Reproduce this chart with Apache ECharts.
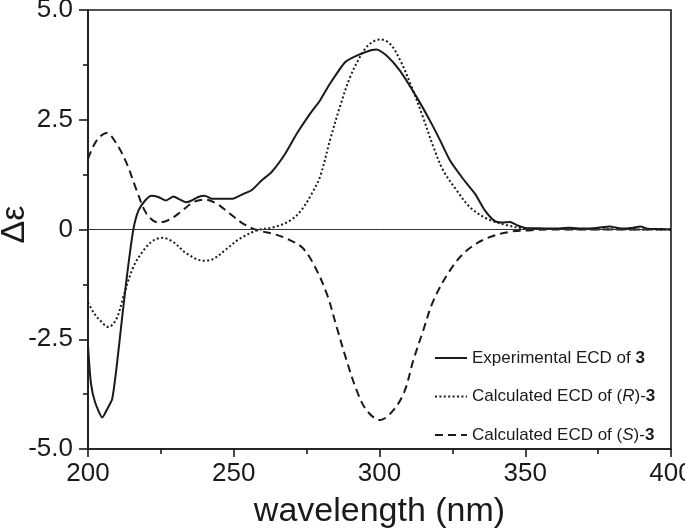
<!DOCTYPE html>
<html>
<head>
<meta charset="utf-8">
<script src="https://cdn.jsdelivr.net/npm/echarts@6/dist/echarts.min.js"></script>
<style>html,body{margin:0;padding:0;background:#fff}#c{width:685px;height:528px}</style>
</head>
<body>
<div id="c"></div>
<script>
// ---- data ----
const seriesNames = ['exp', 'R', 'S'];
const legendLabels = ['Experimental ECD of {b|3}', 'Calculated ECD of ({i|R})-{b|3}', 'Calculated ECD of ({i|S})-{b|3}'];

const expWavelength = [200,201,202.4,204.9,206.5,208.3,209.8,211.6,213.3,215.5,217.3,219.6,221.8,224.1,226.8,229.3,231.6,233.6,235.6,237.8,240.1,242.4,245.3,249.6,253.3,256.2,259.6,263,267.6,271.6,276.2,279.6,283,288.2,292.2,297.3,299,302.5,307,312.8,317.3,320.8,324.2,328.7,332.8,336.2,339.6,342,344.8,347.1,350.5,355,360,365,370,375,379,383,387,389.4,392,396,400];
const expDelta      = [-2.65,-3.5,-3.93,-4.28,-4.1,-3.86,-3.14,-2.07,-1.09,-0.02,0.43,0.66,0.77,0.74,0.66,0.75,0.68,0.62,0.66,0.74,0.77,0.70,0.70,0.70,0.81,0.90,1.12,1.31,1.72,2.18,2.64,2.94,3.32,3.81,3.96,4.09,4.10,3.96,3.62,3.01,2.48,2.03,1.57,1.15,0.81,0.43,0.19,0.16,0.17,0.10,0.03,0.03,0.02,0.04,0.02,0.04,0.07,0.02,0.04,0.07,0.02,0.01,0.0];

const rWavelength = [200,202,204.1,207,209.8,212.1,215.5,219,222.4,225.6,229.3,233.9,239.6,243,247.6,252.1,257.9,263.6,269.3,273.3,276.7,279.6,283,286.4,289.9,293.9,296.7,300.2,303.6,307,311,314.7,318.5,321.9,326.5,331,336.8,343.6,350.5,360,400];
const rDelta      = [-1.66,-1.9,-2.07,-2.22,-2.03,-1.54,-0.86,-0.48,-0.25,-0.19,-0.29,-0.55,-0.71,-0.67,-0.44,-0.21,-0.02,0.05,0.2,0.45,0.81,1.2,2.03,2.79,3.47,4.0,4.23,4.33,4.23,3.87,3.25,2.6,1.88,1.34,0.89,0.51,0.25,0.10,0.02,0.01,0.0];

const sWavelength = [200,203,206.4,209.8,213.3,216.7,220.1,224.1,227.5,231.6,236.1,240.1,244.1,248.7,253.3,257.9,263.6,268.2,273.3,277.3,281.9,285.3,288.7,292.2,295.6,300.2,304.7,308.5,311.6,315,318.5,324.2,329.9,336.8,344.8,351,360,400];
const sDelta      = [1.61,2.03,2.2,1.95,1.50,0.89,0.36,0.16,0.21,0.39,0.62,0.68,0.59,0.36,0.13,-0.01,-0.10,-0.21,-0.40,-0.78,-1.46,-2.22,-2.98,-3.67,-4.12,-4.34,-4.12,-3.70,-2.98,-2.30,-1.62,-0.93,-0.48,-0.2,-0.05,-0.02,0.0,0.0];

const xTicks = [200,250,300,350,400];
const xTickLabels = ['200','250','300','350','400'];
const yTicks = [-5,-2.5,0,2.5,5];
const yTickLabels = ['-5.0','-2.5','0','2.5','5.0'];

// ---- chart ----
const zip = (xs, ys) => xs.map((x, i) => [x, ys[i]]);
const FONT = '"Liberation Sans", Arial, sans-serif';
const INK = '#1a1a1a';

const chart = echarts.init(document.getElementById('c'), null, {renderer: 'canvas'});
const baseLine = {type: 'line', symbol: 'none', showSymbol: false, animation: false, silent: true};

chart.setOption({
  animation: false,
  backgroundColor: '#fff',
  grid: {left: 88, right: 14, top: 10, bottom: 79, containLabel: false, outerBoundsMode: 'none',
    show: true, borderColor: INK, borderWidth: 1.6, backgroundColor: 'transparent'},
  xAxis: {
    type: 'value', min: 200, max: 400, interval: 50,
    axisLine: {show: true, onZero: false, lineStyle: {color: INK, width: 1.6}},
    axisTick: {show: true, inside: false, length: 8, lineStyle: {color: INK, width: 1.6}},
    minorTick: {show: true, splitNumber: 2, length: 5, lineStyle: {color: INK, width: 1.6}},
    splitLine: {show: false},
    axisLabel: {fontSize: 26, color: INK, fontFamily: FONT, margin: 12,
      formatter: v => { const i = xTicks.indexOf(v); return i >= 0 ? xTickLabels[i] : ''; }},
    name: 'wavelength (nm)', nameLocation: 'middle', nameGap: 46, nameMoveOverlap: false,
    nameTextStyle: {fontSize: 34, color: INK, fontFamily: FONT, verticalAlign: 'top'}
  },
  yAxis: {
    type: 'value', min: -5, max: 5, interval: 2.5,
    axisLine: {show: true, onZero: false, lineStyle: {color: INK, width: 1.6}},
    axisTick: {show: true, inside: false, length: 9, lineStyle: {color: INK, width: 1.6}},
    minorTick: {show: true, splitNumber: 2, length: 5, lineStyle: {color: INK, width: 1.6}},
    splitLine: {show: false},
    axisLabel: {fontSize: 26, color: INK, fontFamily: FONT, margin: 15,
      formatter: v => { const i = yTicks.indexOf(v); return i >= 0 ? yTickLabels[i] : ''; }},
    name: 'Δε', nameLocation: 'middle', nameGap: 56, nameRotate: 90, nameMoveOverlap: false,
    nameTextStyle: {fontSize: 34, color: INK, fontFamily: FONT, padding: [0, 0, 0, 10]}
  },
  legend: {
    orient: 'vertical', left: 429, top: 343,
    itemWidth: 32, itemHeight: 14, itemGap: 18.5,
    itemStyle: {opacity: 0},
    data: seriesNames,
    formatter: name => legendLabels[seriesNames.indexOf(name)],
    textStyle: {
      fontSize: 17, color: INK, fontFamily: FONT, lineHeight: 20,
      rich: {
        b: {fontSize: 17, fontWeight: 'bold', color: INK, fontFamily: FONT, lineHeight: 20},
        i: {fontSize: 17, fontStyle: 'italic', color: INK, fontFamily: FONT, lineHeight: 20}
      }
    }
  },
  series: [
    Object.assign({}, baseLine, {
      name: seriesNames[0], data: zip(expWavelength, expDelta), smooth: 0.2,
      lineStyle: {color: INK, width: 2, type: 'solid'}, itemStyle: {color: INK}, z: 5,
      markLine: {silent: true, symbol: 'none', label: {show: false}, animation: false,
        lineStyle: {type: 'solid', color: '#333', width: 1}, data: [{yAxis: 0}]}
    }),
    Object.assign({}, baseLine, {
      name: seriesNames[1], data: zip(rWavelength, rDelta), smooth: 0.35,
      lineStyle: {color: INK, width: 2, type: [2, 2.4]}, itemStyle: {color: INK}, z: 4
    }),
    Object.assign({}, baseLine, {
      name: seriesNames[2], data: zip(sWavelength, sDelta), smooth: 0.35,
      lineStyle: {color: INK, width: 2, type: [8, 5]}, itemStyle: {color: INK}, z: 3
    })
  ]
});
</script>
</body>
</html>
